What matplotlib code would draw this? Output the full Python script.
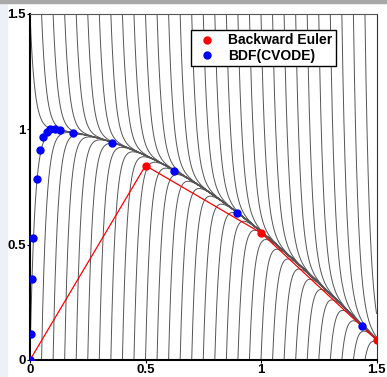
#!/usr/bin/env python3
"""Stiff test problem y' = -lam*(y - cos t): solution family, Backward Euler vs BDF."""

import numpy as np
import matplotlib
matplotlib.use("Agg")
import matplotlib.pyplot as plt
from matplotlib.patches import Rectangle

plt.rcParams['font.family'] = ['Liberation Sans', 'DejaVu Sans']
plt.rcParams['font.weight'] = 'bold'

# ODE stiffness and starting points of the background solution curves
lam = 50.0
t_end = 1.5
top_starts = np.arange(0.0, 1.51, 0.05)      # curves starting at y = 1.5
bottom_starts = np.arange(0.0, 1.46, 0.05)   # curves starting at y = 0
top_y0 = 1.5
bottom_y0 = 0.0

# Backward Euler steps (h = 0.5)
be_t = [0.0, 0.5, 1.0, 1.5]
be_y = [0.0, 0.843, 0.551, 0.087]

# BDF (CVODE) steps
bdf_t = [0.0, 0.003, 0.007, 0.014, 0.029, 0.042, 0.056, 0.072, 0.087,
         0.108, 0.130, 0.185, 0.356, 0.625, 0.895, 1.439]
bdf_y = [0.0, 0.113, 0.349, 0.528, 0.785, 0.911, 0.967, 0.990, 1.000,
         1.000, 0.996, 0.985, 0.942, 0.818, 0.639, 0.148]


def solution(t0, y0):
    """Exact solution of y' = -lam*(y - cos t) through (t0, y0)."""
    a = lam**2 / (lam**2 + 1)
    b = lam / (lam**2 + 1)
    s = np.concatenate([[0.0], np.geomspace(1e-5, t_end - t0 + 1e-9, 500)])
    t = t0 + s
    yp = a * np.cos(t) + b * np.sin(t)
    c = y0 - (a * np.cos(t0) + b * np.sin(t0))
    return t, yp + c * np.exp(-lam * s)


fig = plt.figure(figsize=(3.87, 3.77), dpi=100)
fig.patches.append(Rectangle((0, 0), 7 / 387, 1, transform=fig.transFigure,
                             color='#eef0f7', zorder=-5))
fig.patches.append(Rectangle((0, 1 - 3 / 377), 1, 3 / 377, transform=fig.transFigure,
                             color='#a8a8a8', zorder=-5))
ax = fig.add_axes([30 / 387, 17 / 377, 346.5 / 387, 346 / 377])

for t0 in top_starts:
    t, y = solution(t0, top_y0)
    ax.plot(t, y, color='#555555', lw=0.7, zorder=1)
for t0 in bottom_starts:
    t, y = solution(t0, bottom_y0)
    ax.plot(t, y, color='#555555', lw=0.7, zorder=1)

ax.plot(be_t, be_y, color='red', lw=0.9, zorder=2)
ax.plot(be_t, be_y, 'o', color='red', ms=5, zorder=3, label='Backward Euler')
ax.plot(bdf_t, bdf_y, 'o', color='blue', ms=5, zorder=3, label='BDF(CVODE)')

ax.set_xlim(0, 1.5)
ax.set_ylim(0, 1.5)
ax.set_xticks([0, 0.5, 1, 1.5])
ax.set_xticklabels(['0', '0.5', '1', '1.5'])
ax.set_yticks([0, 0.5, 1, 1.5])
ax.set_yticklabels(['0', '0.5', '1', '1.5'])
ax.tick_params(direction='out', length=2, width=0.8, pad=1, labelsize=9.5)
for lbl in ax.get_xticklabels() + ax.get_yticklabels():
    lbl.set_fontweight('bold')

ax.spines['left'].set_linewidth(1.5)
ax.spines['bottom'].set_linewidth(1.5)
ax.spines['top'].set_linewidth(0.8)
ax.spines['right'].set_linewidth(0.8)
ax.spines['top'].set_color('#555555')
ax.spines['right'].set_color('#333333')

leg = ax.legend(loc='upper right', bbox_to_anchor=(0.903, 0.974), fancybox=False,
                framealpha=1, edgecolor='black', prop={'size': 10, 'weight': 'bold'},
                handletextpad=0.6, borderpad=0.25, labelspacing=0.1,
                handlelength=1.8, markerscale=1.0)
leg.get_frame().set_linewidth(1.0)

fig.savefig('out.png', dpi=100)
